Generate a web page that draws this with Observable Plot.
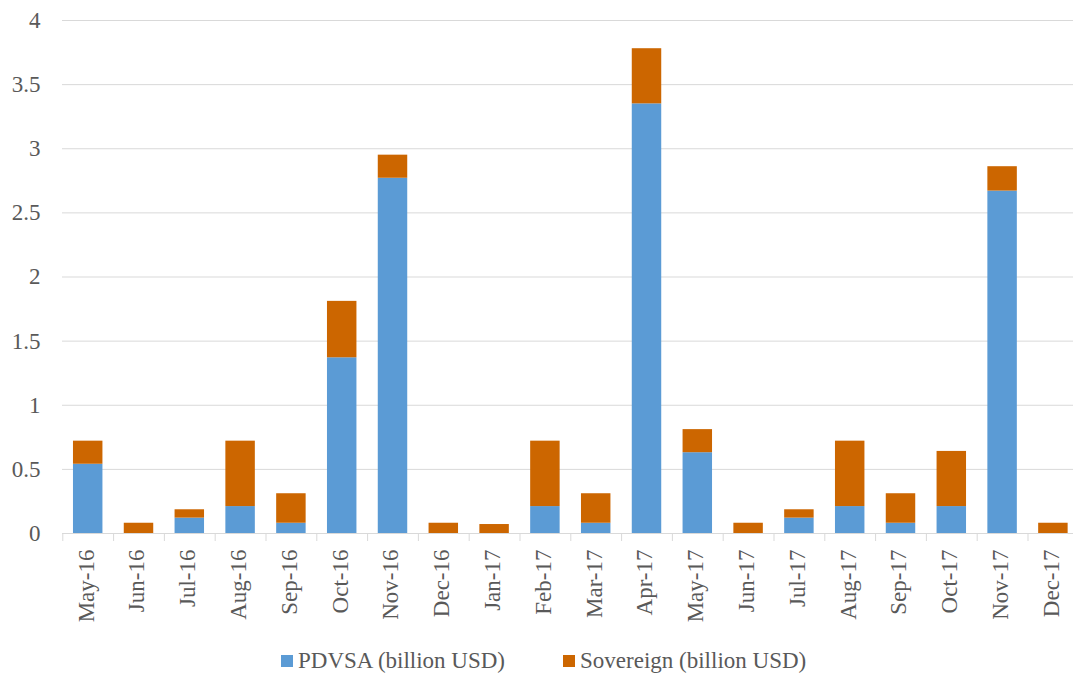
<!DOCTYPE html>
<html>
<head>
<meta charset="utf-8">
<script src="https://cdn.jsdelivr.net/npm/d3@7"></script>
<script src="https://cdn.jsdelivr.net/npm/@observablehq/plot@0.6"></script>
</head>
<body style="margin:0;padding:0;background:#fff;font-family:'Liberation Serif';font-size:23px">
<div id="chart"></div>
<div id="legend" style="position:absolute;left:281px;top:648px;display:flex;align-items:center;font-size:23px;white-space:nowrap;font-family:'Liberation Serif';color:#595959"></div>
<script>
const months = ["May-16","Jun-16","Jul-16","Aug-16","Sep-16","Oct-16","Nov-16","Dec-16","Jan-17","Feb-17",
                "Mar-17","Apr-17","May-17","Jun-17","Jul-17","Aug-17","Sep-17","Oct-17","Nov-17","Dec-17"];
const pdvsa =     [0.54, 0,    0.12,  0.21, 0.08, 1.37, 2.77, 0,    0,    0.21, 0.08, 3.35, 0.63, 0,    0.12,  0.21, 0.08, 0.21, 2.67, 0];
const sovereign = [0.18, 0.08, 0.065, 0.51, 0.23, 0.44, 0.18, 0.08, 0.07, 0.51, 0.23, 0.43, 0.18, 0.08, 0.065, 0.51, 0.23, 0.43, 0.19, 0.08];
const seriesNames = ["PDVSA (billion USD)", "Sovereign (billion USD)"];
const seriesColors = ["#5B9BD5", "#CC6600"];
const yTicks = [0, 0.5, 1, 1.5, 2, 2.5, 3, 3.5, 4];

const data = months.flatMap((m, i) => [
  {month: m, series: seriesNames[0], value: pdvsa[i]},
  {month: m, series: seriesNames[1], value: sovereign[i]}
]);

const FONT = "'Liberation Serif'";

const chart = Plot.plot({
  width: 1073, height: 640,
  marginLeft: 62, marginRight: 0, marginTop: 20, marginBottom: 107,
  style: {fontFamily: FONT, fontSize: "23px", color: "#595959", background: "white"},
  x: {domain: months, range: [62.3, 1078.3], paddingInner: 0.42, paddingOuter: 0.21, round: false, label: null},
  y: {domain: [0, 4], label: null},
  color: {domain: seriesNames, range: seriesColors},
  marks: [
    Plot.gridY(yTicks, {stroke: "#d9d9d9", strokeOpacity: 1, strokeWidth: 1}),
    Plot.axisY(yTicks, {tickSize: 0, tickPadding: 22, tickFormat: d => String(d), fill: "#595959", fontSize: 23, fontFamily: FONT, label: null}),
    Plot.axisX({tickSize: 8, tickFormat: () => "", dx: -25.4, stroke: "#d9d9d9", strokeOpacity: 1, label: null}),
    Plot.axisX({tickSize: 0, tickRotate: -90, tickPadding: 16, dx: -2, fill: "#595959", fontSize: 23, fontFamily: FONT, label: null}),
    Plot.barY(data, {x: "month", y: "value", fill: "series", order: seriesNames}),
    Plot.ruleY([0], {stroke: "#d9d9d9", strokeWidth: 1})
  ]
});
document.getElementById("chart").appendChild(chart);

const legend = document.getElementById("legend");
seriesNames.forEach((name, i) => {
  const item = document.createElement("div");
  item.style.cssText = "display:flex;align-items:center;margin-right:58px";
  const sw = document.createElement("div");
  sw.style.cssText = "width:12px;height:12px;margin-right:5px;background:" + seriesColors[i];
  const label = document.createElement("span");
  label.textContent = name;
  item.appendChild(sw);
  item.appendChild(label);
  legend.appendChild(item);
});
</script>
</body>
</html>
